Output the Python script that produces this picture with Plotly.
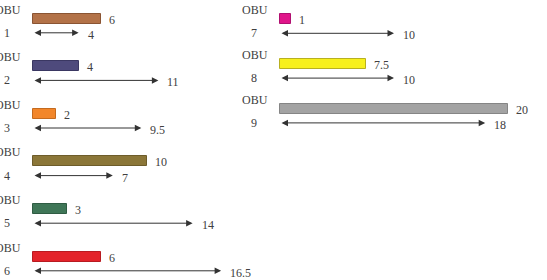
import plotly.graph_objects as go

# ---- data ----
left_ids = ["1", "2", "3", "4", "5", "6"]
left_bar = [6, 4, 2, 10, 3, 6]
left_arrow = [4, 11, 9.5, 7, 14, 16.5]
left_colors = ["#b37248", "#4e4a7c", "#f2862a", "#8b7638", "#3f7657", "#e3232a"]
left_lines = ["#8a5433", "#3a3762", "#c46a1e", "#6d5c2a", "#2f5c43", "#b81b21"]

right_ids = ["7", "8", "9"]
right_bar = [1, 7.5, 20]
right_arrow = [10, 10, 18]
right_colors = ["#e0158a", "#f7f01c", "#a3a3a3"]
right_lines = ["#b01070", "#b8b020", "#858585"]

# ---- layout constants (pixels) ----
W, H = 547, 280
S = 11.4            # px per unit
L0, R0 = 33, 280    # origins
LROW0, LROW = 18.5, 47.6
RROW0, RROW = 19.0, 44.8
ARROW_DY = 14.3
BAR_H = 10.0
TXT = "#404040"
FONT = dict(family="Liberation Serif, Times New Roman, serif", size=12, color=TXT)

fig = go.Figure()

fig.add_trace(go.Bar(
    y=list(range(len(left_bar))), x=left_bar, base=0, orientation="h",
    width=BAR_H / LROW,
    marker=dict(color=left_colors, line=dict(color=left_lines, width=1)),
    xaxis="x", yaxis="y", showlegend=False, hoverinfo="skip"))
fig.add_trace(go.Bar(
    y=list(range(len(right_bar))), x=right_bar, base=0, orientation="h",
    width=BAR_H / RROW,
    marker=dict(color=right_colors, line=dict(color=right_lines, width=1)),
    xaxis="x2", yaxis="y2", showlegend=False, hoverinfo="skip"))

ann = []

def add_panel(ids, bars, arrows, xr, yr, rowpx):
    dy = ARROW_DY / rowpx
    for i, (lab, b, a) in enumerate(zip(ids, bars, arrows)):
        # double arrow
        ann.append(dict(x=a, y=i + dy, ax=0, ay=i + dy, xref=xr, yref=yr,
                        axref=xr, ayref=yr, text="", showarrow=True,
                        arrowhead=2, startarrowhead=2, arrowside="end+start",
                        arrowsize=1.3, startarrowsize=1.3, arrowwidth=1,
                        arrowcolor="#333333", standoff=0, startstandoff=0))
        # bar value
        ann.append(dict(x=b, y=i, xref=xr, yref=yr, text=f"{b:g}",
                        showarrow=False, xanchor="left", yanchor="middle",
                        xshift=6, yshift=-1, font=FONT))
        # arrow value
        ann.append(dict(x=a, y=i + dy, xref=xr, yref=yr, text=f"{a:g}",
                        showarrow=False, xanchor="left", yanchor="middle",
                        xshift=7, yshift=-2, font=FONT))
        # OBU label
        ann.append(dict(x=0, y=i, xref=xr, yref=yr, text="OBU",
                        showarrow=False, xanchor="center", yanchor="middle",
                        xshift=-25, yshift=9, font=FONT))
        ann.append(dict(x=0, y=i + dy, xref=xr, yref=yr, text=lab,
                        showarrow=False, xanchor="center", yanchor="middle",
                        xshift=-26, yshift=0, font=FONT))

add_panel(left_ids, left_bar, left_arrow, "x", "y", LROW)
add_panel(right_ids, right_bar, right_arrow, "x2", "y2", RROW)

hidden = dict(visible=False, showgrid=False, zeroline=False, fixedrange=True)
fig.update_layout(
    width=W, height=H, margin=dict(l=0, r=0, t=0, b=0),
    paper_bgcolor="white", plot_bgcolor="white",
    xaxis=dict(domain=[0, 1], range=[-L0 / S, (W - L0) / S], **hidden),
    xaxis2=dict(domain=[0, 1], range=[-R0 / S, (W - R0) / S], overlaying="x",
                anchor="y2", **hidden),
    yaxis=dict(domain=[0, 1], range=[(H - LROW0) / LROW, -LROW0 / LROW], **hidden),
    yaxis2=dict(domain=[0, 1], range=[(H - RROW0) / RROW, -RROW0 / RROW],
                overlaying="y", anchor="x2", **hidden),
    annotations=ann,
    bargap=0,
)

fig.write_html("out.html")
